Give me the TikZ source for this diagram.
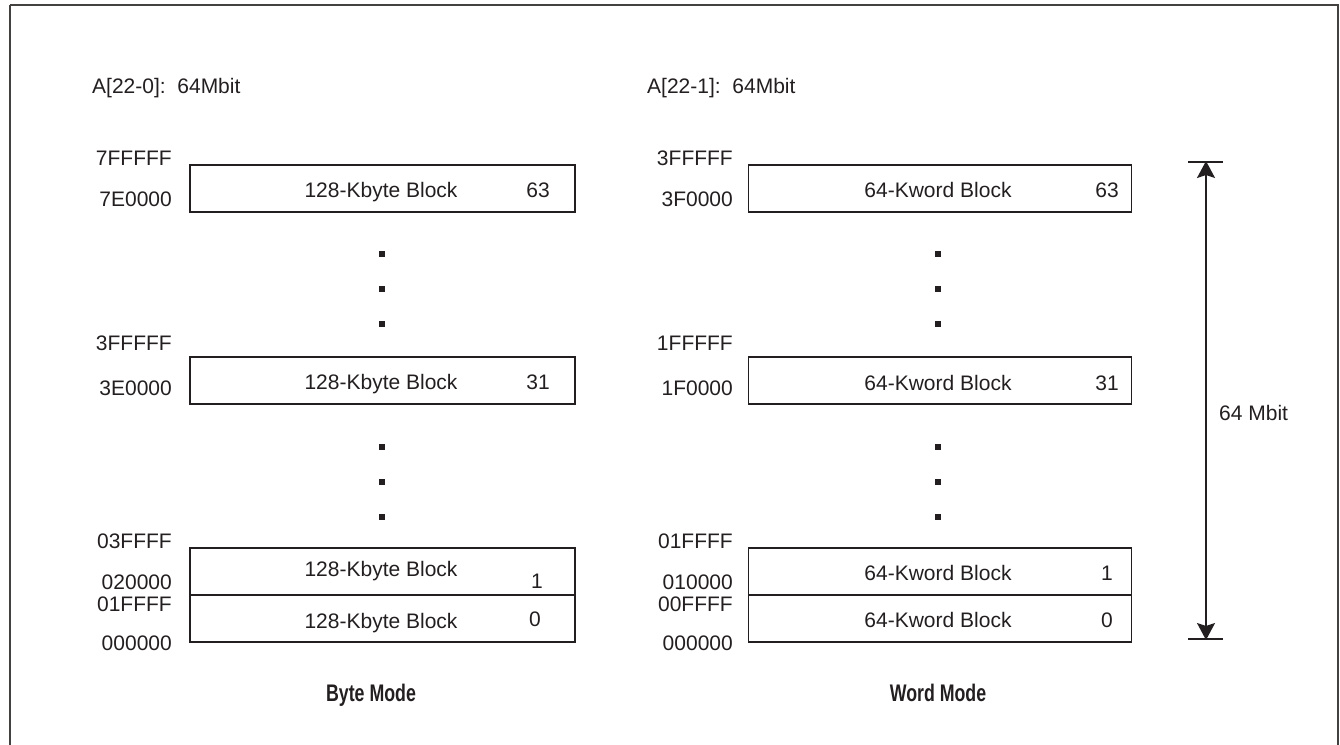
\documentclass[tikz,border=0pt]{standalone}
\usepackage{fontspec}
\setmainfont{Liberation Sans}
\usetikzlibrary{arrows.meta}
\definecolor{ink}{HTML}{231F20}
\begin{document}
\begin{tikzpicture}[x=1pt,y=-1pt,
  every node/.style={inner sep=0pt, text=ink, font=\fontsize{21}{25}\selectfont},
  blk/.style={draw=ink, line width=1.6pt, minimum height=47pt},
  lblock/.style={blk, minimum width=385pt},
  rblock/.style={blk, minimum width=383pt},
  addr/.style={anchor=base east},
  txt/.style={anchor=base},
  dotsq/.style={fill=ink, minimum width=5.5pt, minimum height=5.5pt},
  ttl/.style={anchor=base, font=\fontsize{24}{28}\selectfont\bfseries},
  tick/.style={draw=ink, line width=1.6pt},
  frame/.style={draw=ink!85, line width=1.8pt}
]
\useasboundingbox (0,0) rectangle (1340,744);
\draw[frame] (10,5) -- (1338,5) -- (1338,760) (10,5) -- (10,760);

% headers
\node[anchor=base west] (hL) at (92,93) {A[22-0]:\ \ 64Mbit};
\node[anchor=base west] (hR) at (647,93) {A[22-1]:\ \ 64Mbit};

% ---------------- left column ----------------
\node[lblock] (L63) at (382.5,188.5) {};
\node[lblock] (L31) at (382.5,380.5) {};
\node[lblock] (L1) at (382.5,571.5) {};
\node[lblock] (L0) at (382.5,618.5) {};

\node[txt] (L63t) at (381,197) {128-Kbyte Block};
\node[txt] (L63n) at (538,197) {63};
\node[txt] (L31t) at (381,389) {128-Kbyte Block};
\node[txt] (L31n) at (538,389) {31};
\node[txt] (L1t) at (381,576) {128-Kbyte Block};
\node[txt] (L1n) at (537,588) {1};
\node[txt] (L0t) at (381,628) {128-Kbyte Block};
\node[txt] (L0n) at (535,626) {0};

\node[addr] (La1) at (172,165) {7FFFFF};
\node[addr] (La2) at (172,206) {7E0000};
\node[addr] (La3) at (172,350) {3FFFFF};
\node[addr] (La4) at (172,395) {3E0000};
\node[addr] (La5) at (172,548) {03FFFF};
\node[addr] (La6) at (172,589) {020000};
\node[addr] (La7) at (172,611) {01FFFF};
\node[addr] (La8) at (172,650) {000000};

\node[dotsq] (Ld1) at (382,254) {};
\node[dotsq] (Ld2) at (382,289) {};
\node[dotsq] (Ld3) at (382,324) {};
\node[dotsq] (Ld4) at (382,447) {};
\node[dotsq] (Ld5) at (382,482) {};
\node[dotsq] (Ld6) at (382,517) {};

\node[ttl] (byte) at (371,701) {\scalebox{0.74}[1]{Byte Mode}};

% ---------------- right column ----------------
\node[rblock] (R63) at (940,188.5) {};
\node[rblock] (R31) at (940,380.5) {};
\node[rblock] (R1) at (940,571.5) {};
\node[rblock] (R0) at (940,618.5) {};

\node[txt] (R63t) at (938,197) {64-Kword Block};
\node[txt] (R63n) at (1107,197) {63};
\node[txt] (R31t) at (938,390) {64-Kword Block};
\node[txt] (R31n) at (1107,390) {31};
\node[txt] (R1t) at (938,580) {64-Kword Block};
\node[txt] (R1n) at (1107,580) {1};
\node[txt] (R0t) at (938,627) {64-Kword Block};
\node[txt] (R0n) at (1107,627) {0};

\node[addr] (Ra1) at (733,165) {3FFFFF};
\node[addr] (Ra2) at (733,206) {3F0000};
\node[addr] (Ra3) at (733,350) {1FFFFF};
\node[addr] (Ra4) at (733,395) {1F0000};
\node[addr] (Ra5) at (733,548) {01FFFF};
\node[addr] (Ra6) at (733,589) {010000};
\node[addr] (Ra7) at (733,611) {00FFFF};
\node[addr] (Ra8) at (733,650) {000000};

\node[dotsq] (Rd1) at (938,254) {};
\node[dotsq] (Rd2) at (938,289) {};
\node[dotsq] (Rd3) at (938,324) {};
\node[dotsq] (Rd4) at (938,447) {};
\node[dotsq] (Rd5) at (938,482) {};
\node[dotsq] (Rd6) at (938,517) {};

\node[ttl] (word) at (938,701) {\scalebox{0.74}[1]{Word Mode}};

% ---------------- dimension arrow ----------------
\coordinate (tT) at (1206,162);
\coordinate (tB) at (1206,639);
\draw[tick] ([xshift=-18pt]tT) -- ([xshift=17pt]tT);
\draw[tick] ([xshift=-18pt]tB) -- ([xshift=17pt]tB);
\draw[draw=ink, line width=1.8pt, {Stealth[length=17pt,width=18pt,inset=3pt]}-{Stealth[length=17pt,width=18pt,inset=3pt]}] ([yshift=1pt]tT) -- ([yshift=-1pt]tB);
\node[anchor=base west] (dim) at (1219,420) {64 Mbit};
\end{tikzpicture}
\end{document}
